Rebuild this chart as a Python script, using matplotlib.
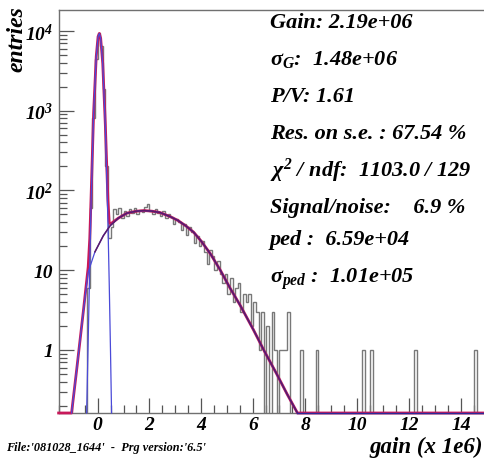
import numpy as np
import matplotlib
matplotlib.use("Agg")
import matplotlib.pyplot as plt
from matplotlib.ticker import FixedLocator, MultipleLocator, NullFormatter

plt.rcParams['mathtext.fontset'] = 'custom'
plt.rcParams['mathtext.rm'] = 'Liberation Serif:bold:italic'
plt.rcParams['mathtext.it'] = 'Liberation Serif:bold:italic'
plt.rcParams['mathtext.bf'] = 'Liberation Serif:bold:italic'
plt.rcParams['font.family'] = ['Liberation Serif', 'DejaVu Serif']

# ---------------- data ----------------
hist_range = (-1.5, 15.0)
bin_width = 0.1

# contiguous populated region: bins starting at -0.4 (step 0.1) up to 7.5
main_start = -0.4
main_counts = [6, 60, 800, 4400, 9500, 6500, 1900, 200, 25,
               35, 58, 50, 60, 45, 55, 48, 58, 52, 60,
               50, 57, 53, 62, 67, 55, 50, 58, 52, 48,
               56, 45, 50, 47, 38, 44, 40, 32, 38, 28,
               35, 30, 22, 27, 20, 23, 17, 12, 18, 15,
               10, 13, 9, 7, 9, 5, 8, 4, 6, 7,
               3, 5, 4, 5, 2, 4, 3, 1, 3, 0,
               2, 0, 3, 1, 0, 1, 1, 1, 3, 0]
# isolated tail bins (left edge, content)
tail_lo = [7.8, 8.4, 10.2, 10.5, 12.2, 14.5]
tail_counts = [1, 1, 1, 1, 1, 1]

# fit curves (0 = below the axis minimum)
tot_x = [-1.5, -1.0, -0.8, -0.55, -0.36, -0.3, -0.25, -0.15, -0.05, 0.02, 0.07,
         0.12, 0.2, 0.3, 0.4, 0.45, 0.5, 0.8, 1.13, 1.5, 1.8, 2.1, 2.4, 2.8,
         3.1, 3.4, 3.7, 4.0, 4.35, 4.73, 5.1, 5.5, 6.0, 6.4, 6.9, 7.3, 7.7, 15.0]
tot_y = [0, 0, 0.58, 3.0, 11, 25, 81, 965, 4815, 8515, 9320,
         8125, 3925, 670, 75, 40, 38, 45, 52, 55, 56, 55, 53, 47,
         42, 36, 30, 23, 16, 10, 6, 3.6, 1.8, 1.0, 0.5, 0.28, 0, 0]

ped_x = [-0.42, -0.35, -0.25, -0.15, -0.05, 0.02, 0.07, 0.12, 0.2, 0.3, 0.4, 0.45, 0.5, 0.54]
ped_y = [0, 1.9, 69, 950, 4800, 8500, 9300, 8100, 3900, 640, 40, 6.8, 0.93, 0]

sig_x = [-1.0, -0.8, -0.55, -0.36, -0.1, 0.22, 0.48, 0.8, 1.13, 1.5, 1.8, 2.1, 2.4,
         2.8, 3.1, 3.4, 3.7, 4.0, 4.35, 4.73, 5.1, 5.5, 6.0, 6.4, 6.9, 7.3, 7.7]
sig_y = [0, 0.58, 3.0, 9.5, 17, 27, 36, 45, 52, 55, 56, 55, 53,
         47, 42, 36, 30, 23, 16, 10, 6, 3.6, 1.8, 1.0, 0.5, 0.28, 0]

stats_lines = [
    "Gain: 2.19e+06",
    "σ$_{G}$:  1.48e+06",
    "P/V: 1.61",
    "Res. on s.e. : 67.54 %",
    "χ$^{2}$ / ndf:  1103.0 / 129",
    "Signal/noise:    6.9 %",
    "ped :  6.59e+04",
    "σ$_{ped}$ :  1.01e+05",
]
footer = "File:'081028_1644'  -  Prg version:'6.5'"
x_title = "gain (x 1e6)"
y_title = "entries"
y_ticks = [1, 10, 100, 1000, 10000]
y_ticklabels = ["1", "10", "$10^{2}$", "$10^{3}$", "$10^{4}$"]
x_ticks = [0, 2, 4, 6, 8, 10, 12, 14]

# ---------------- figure ----------------
W, H = 485, 460
fig = plt.figure(figsize=(W / 100, H / 100), dpi=100)
L, R, T, B = 58.6, 487.0, 10.7, 414.0
ax = fig.add_axes([L / W, (H - B) / H, (R - L) / W, (B - T) / H])
ymin, ymax = 0.162, 18500
ax.set_xlim(*hist_range)
ax.set_yscale('log')
ax.set_ylim(ymin, ymax)

nb = int(round((hist_range[1] - hist_range[0]) / bin_width))
edges = hist_range[0] + bin_width * np.arange(nb + 1)
counts = np.zeros(nb)
i0 = int(round((main_start - hist_range[0]) / bin_width))
counts[i0:i0 + len(main_counts)] = main_counts
for lo, c in zip(tail_lo, tail_counts):
    counts[int(round((lo - hist_range[0]) / bin_width))] = c
vals = np.where(counts > 0, counts, ymin * 0.5)
ax.stairs(vals, edges, baseline=None, color='#787878', lw=1.0, zorder=2)

red = '#c8185a'
blue = '#4a4ad8'
ax.plot(tot_x, np.maximum(tot_y, ymin), color=red, lw=2.0, zorder=3, clip_on=False,
        solid_joinstyle='round')
ax.plot(ped_x, np.maximum(ped_y, ymin), color=blue, lw=0.9, zorder=4, clip_on=False)
ax.plot(sig_x, np.maximum(sig_y, ymin), color=blue, lw=0.9, zorder=4, clip_on=False)
ax.plot(sig_x[4:], np.maximum(sig_y[4:], ymin), color='#5a1a6a', lw=1.1, zorder=4, clip_on=False)
ax.plot(tot_x[-2:], [ymin, ymin], color='#2a2a9a', lw=1.0, zorder=4, clip_on=False)

# axes styling
for s in ['left', 'top', 'bottom', 'right']:
    ax.spines[s].set_color('#707070')
    ax.spines[s].set_linewidth(1.0)
ax.yaxis.set_major_locator(FixedLocator(y_ticks))
ax.yaxis.set_minor_locator(FixedLocator([m * 10.0 ** e for e in range(-1, 5) for m in range(2, 10)
                                          if ymin < m * 10.0 ** e < ymax]))
ax.yaxis.set_minor_formatter(NullFormatter())
ax.set_yticklabels(y_ticklabels)
ax.xaxis.set_major_locator(FixedLocator(x_ticks))
ax.xaxis.set_minor_locator(MultipleLocator(0.5))
ax.set_xticklabels([str(t) for t in x_ticks])
ax.tick_params(axis='both', which='major', direction='in', length=11, width=0.9, color='#555555')
ax.tick_params(axis='both', which='minor', direction='in', length=6, width=0.9, color='#555555')
ax.tick_params(top=False, right=False, which='both')
ax.tick_params(axis='x', pad=2)
ax.tick_params(axis='y', pad=4)
for lab in ax.get_xticklabels() + ax.get_yticklabels():
    lab.set_fontfamily('Liberation Serif')
    lab.set_fontweight('bold')
    lab.set_fontstyle('italic')
    lab.set_fontsize(14)

tkw = dict(fontfamily='Liberation Serif', fontweight='bold', fontstyle='italic', color='black')
baselines = [28, 65, 102, 139, 177, 213, 245, 283]
for line, yb in zip(stats_lines, baselines):
    fig.text(270 / W, 1 - yb / H, line, fontsize=16, ha='left', va='baseline', **tkw)

fig.text(483 / W, 1 - 453 / H, x_title, fontsize=16.5, ha='right', va='baseline', **tkw)
fig.text(17 / W, 1 - 6 / H, y_title, fontsize=17, ha='center', va='top', rotation=90, **tkw)
fig.text(6 / W, 1 - 451 / H, footer, fontsize=8.8, ha='left', va='baseline', **tkw)

fig.savefig('out.png', dpi=100)
